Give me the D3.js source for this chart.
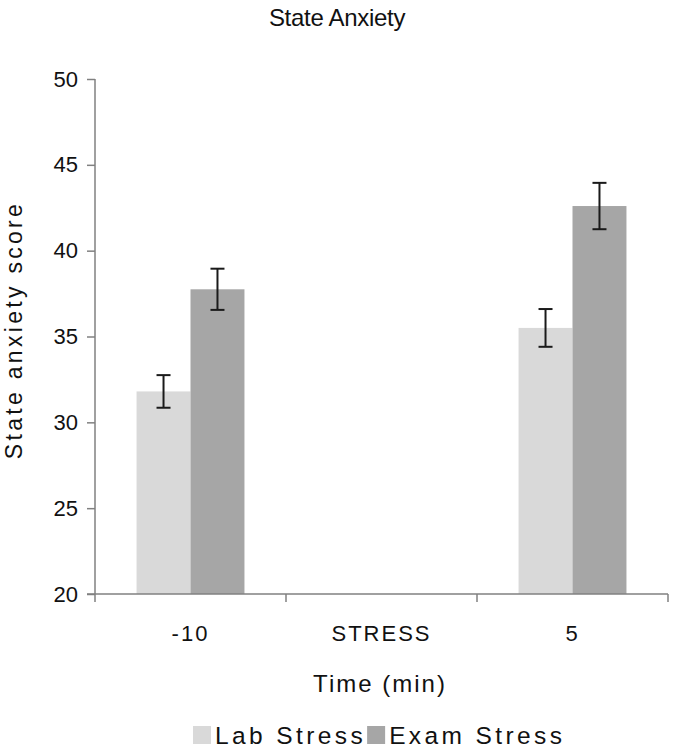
<!DOCTYPE html>
<html><head><meta charset="utf-8">
<script src="https://cdn.jsdelivr.net/npm/d3@7"></script>
<style>body{margin:0;background:#fff;} svg{display:block;font-family:"Liberation Sans",Arial,sans-serif;}</style>
</head><body>
<script>
const categories = ["-10", "STRESS", "5"];
const seriesNames = ["Lab Stress", "Exam Stress"];
const labMeans = [31.8, null, 35.5];
const labErr = [0.95, null, 1.1];
const examMeans = [37.75, null, 42.6];
const examErr = [1.2, null, 1.35];
const yTicks = [20, 25, 30, 35, 40, 45, 50];
const colors = ["#d9d9d9", "#a6a6a6"];

const W = 673, H = 749;
const m = {left: 95, right: 5, top: 79, bottom: 155};
const svg = d3.select("body").append("svg").attr("width", W).attr("height", H);

const x = d3.scaleBand().domain(categories).range([m.left, W - m.right]).paddingInner(0).paddingOuter(0);
const xs = d3.scaleBand().domain(seriesNames).range([0, x.bandwidth()]).paddingInner(0).paddingOuter(0.77);
const y = d3.scaleLinear().domain([20, 50]).range([H - m.bottom, m.top]);

const series = [
  {name: seriesNames[0], vals: labMeans, errs: labErr, color: colors[0]},
  {name: seriesNames[1], vals: examMeans, errs: examErr, color: colors[1]}
];

// bars
series.forEach(s => {
  const data = categories.map((c, i) => ({c, v: s.vals[i], e: s.errs[i]})).filter(d => d.v != null);
  svg.append("g").selectAll("rect").data(data).join("rect")
    .attr("x", d => x(d.c) + xs(s.name))
    .attr("width", xs.bandwidth())
    .attr("y", d => y(d.v))
    .attr("height", d => y(20) - y(d.v))
    .attr("fill", s.color);
});

// error bars
series.forEach(s => {
  const data = categories.map((c, i) => ({c, v: s.vals[i], e: s.errs[i]})).filter(d => d.v != null);
  const g = svg.append("g").attr("stroke", "#1a1a1a").attr("stroke-width", 2);
  data.forEach(d => {
    const cx = x(d.c) + xs(s.name) + xs.bandwidth() / 2;
    g.append("line").attr("x1", cx).attr("x2", cx).attr("y1", y(d.v + d.e)).attr("y2", y(d.v - d.e));
    g.append("line").attr("x1", cx - 7).attr("x2", cx + 7).attr("y1", y(d.v + d.e)).attr("y2", y(d.v + d.e));
    g.append("line").attr("x1", cx - 7).attr("x2", cx + 7).attr("y1", y(d.v - d.e)).attr("y2", y(d.v - d.e));
  });
});

// y axis
const yAxis = svg.append("g").attr("transform", `translate(${m.left},0)`)
  .call(d3.axisLeft(y).tickValues(yTicks).tickSize(8).tickPadding(9));
yAxis.selectAll("path, line").attr("stroke", "#808080").attr("stroke-width", 1.5);
yAxis.select(".domain").attr("d", `M0,${y(50)}V${y(20)}`);
yAxis.selectAll("text").attr("font-size", 22).attr("fill", "#111").attr("font-family", "Liberation Sans, Arial, sans-serif");

// x axis
const xAxisG = svg.append("g").attr("transform", `translate(0,${y(20)})`);
xAxisG.append("line").attr("x1", m.left - 8).attr("x2", W - m.right).attr("y1", 0).attr("y2", 0)
  .attr("stroke", "#808080").attr("stroke-width", 1.5);
const edges = categories.map(c => x(c)).concat([x(categories[categories.length - 1]) + x.bandwidth()]);
xAxisG.selectAll("line.tk").data(edges).join("line").attr("class", "tk")
  .attr("x1", d => d).attr("x2", d => d).attr("y1", 0).attr("y2", 8)
  .attr("stroke", "#808080").attr("stroke-width", 1.5);
xAxisG.selectAll("text").data(categories).join("text")
  .attr("x", d => x(d) + x.bandwidth() / 2).attr("y", 47)
  .attr("text-anchor", "middle").attr("font-size", 22).attr("letter-spacing", 2).attr("fill", "#111")
  .text(d => d);

// title
svg.append("text").attr("x", 337).attr("y", 26).attr("text-anchor", "middle")
  .attr("font-size", 24).attr("letter-spacing", -0.3).attr("fill", "#111").text("State Anxiety");

// axis titles
svg.append("text").attr("x", 380).attr("y", 692).attr("text-anchor", "middle")
  .attr("font-size", 24).attr("letter-spacing", 2).attr("fill", "#111").text("Time (min)");
svg.append("text").attr("transform", `translate(22,330) rotate(-90)`)
  .attr("text-anchor", "middle").attr("font-size", 23).attr("letter-spacing", 3.3).attr("fill", "#111").text("State anxiety score");

// legend
const leg = svg.append("g").attr("transform", "translate(193,735)");
let lx = 0;
series.forEach(s => {
  leg.append("rect").attr("x", lx).attr("y", -9).attr("width", 18).attr("height", 18).attr("fill", s.color);
  const t = leg.append("text").attr("x", lx + 22).attr("y", 9).attr("font-size", 24.5).attr("letter-spacing", 3.4)
    .attr("fill", "#111").text(s.name);
  lx += 22 + t.node().getComputedTextLength() + 1;
});
</script>
</body></html>
